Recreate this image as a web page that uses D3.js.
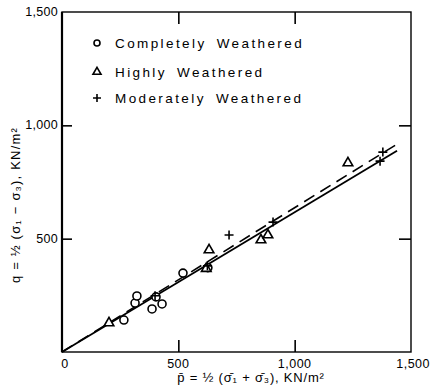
<!DOCTYPE html>
<html>
<head>
<meta charset="utf-8">
<script src="https://cdn.jsdelivr.net/npm/d3@7"></script>
<style>
  body { margin: 0; background: #fff; }
  text { font-family: 'Liberation Sans', 'DejaVu Sans', sans-serif; fill: #000; }
</style>
</head>
<body>
<div id="chart-container"></div>
<script>
// Data (p, q in KN/m2)

const completely = [
  [266, 141], [314, 216], [322, 247], [387, 190], [404, 243],
  [430, 212], [520, 348], [627, 372],
]
const highly = [
  [202, 128], [632, 450], [620, 368], [855, 494], [885, 516], [1229, 834],
]
const moderately = [
  [718, 516], [907, 573], [1367, 842], [1379, 882], [400, 248], [625, 380],
]
const solidFit = [[0, 0], [1440, 888]]
const dashedFit = [[0, 0], [1440, 917]]
const ticks = [0, 500, 1000, 1500]
const tickLabels = ['0', '500', '1,000', '1,500']
const legendItems = ['Completely Weathered', 'Highly Weathered', 'Moderately Weathered']

// Dimensions

const W = 431
const H = 389
const margin = { top: 12, right: 20, bottom: 37, left: 62 }
const width = 411 - margin.left
const height = 352 - margin.top

const svg = d3
  .select('#chart-container')
  .append('svg')
  .attr('width', W)
  .attr('height', H)

const g = svg.append('g').attr('transform', `translate(${margin.left},${margin.top})`)

const x = d3.scaleLinear().domain([0, 1500]).range([0, width])
const y = d3.scaleLinear().domain([0, 1500]).range([height, 0])

// Frame

g.append('rect')
  .attr('width', width)
  .attr('height', height)
  .attr('fill', 'none')
  .attr('stroke', '#000')
  .attr('stroke-width', 1.4)
g.append('line')
  .attr('x1', 0).attr('x2', 0).attr('y1', 0).attr('y2', height)
  .attr('stroke', '#000').attr('stroke-width', 2.2)

// Inner ticks on all four sides

const inner = [500, 1000]
const fmt = (d) => tickLabels[ticks.indexOf(d)]

g.append('g').attr('transform', `translate(0,${height})`)
  .call(d3.axisBottom(x).tickValues(inner).tickSize(-12).tickFormat(''))
g.append('g')
  .call(d3.axisTop(x).tickValues(inner).tickSize(-12).tickFormat(''))
g.append('g')
  .call(d3.axisLeft(y).tickValues(inner).tickSize(-10).tickFormat(''))
g.append('g').attr('transform', `translate(${width},0)`)
  .call(d3.axisRight(y).tickValues(inner).tickSize(-12).tickFormat(''))
g.selectAll('.domain').remove()
g.selectAll('.tick line').attr('stroke', '#000').attr('stroke-width', 1.6)

// Tick labels

g.selectAll('.xlab')
  .data(ticks)
  .enter()
  .append('text')
  .attr('class', 'xlab')
  .attr('x', (d) => (d === 1500 ? W - margin.left - 1 : x(d) + (d === 0 ? 3 : 0)))
  .attr('y', height + 16)
  .attr('text-anchor', (d) => (d === 1500 ? 'end' : 'middle'))
  .attr('font-size', 12.5)
  .attr('letter-spacing', 0.5)
  .text(fmt)

g.selectAll('.ylab')
  .data(ticks.slice(1))
  .enter()
  .append('text')
  .attr('class', 'ylab')
  .attr('x', -4)
  .attr('y', (d) => y(d) + 4)
  .attr('text-anchor', 'end')
  .attr('font-size', 12.5)
  .attr('letter-spacing', 0.3)
  .text(fmt)

// Axis titles

svg.append('text')
  .attr('x', 251)
  .attr('y', 382)
  .attr('text-anchor', 'middle')
  .attr('font-size', 13)
  .attr('letter-spacing', 0.8)
  .text('p̄ = ½ (σ̄₁ + σ̄₃), KN/m²')

svg.append('text')
  .attr('transform', 'translate(20,205) rotate(-90)')
  .attr('text-anchor', 'middle')
  .attr('font-size', 13)
  .attr('letter-spacing', 1.2)
  .text('q = ½ (σ₁ − σ₃), KN/m²')

// Fit lines

const line = d3.line()
  .x((d) => x(d[0]))
  .y((d) => y(d[1]))

g.append('path')
  .datum(solidFit)
  .attr('fill', 'none')
  .attr('stroke', '#000')
  .attr('stroke-width', 1.8)
  .attr('d', line)

g.append('path')
  .datum(dashedFit)
  .attr('fill', 'none')
  .attr('stroke', '#000')
  .attr('stroke-width', 1.6)
  .attr('stroke-dasharray', '12,7')
  .attr('d', line)

// Markers

const tri = d3.symbol().type(d3.symbolTriangle).size(40)
const plus = (s) => `M${-s},0H${s}M0,${-s}V${s}`

g.selectAll('.circle')
  .data(completely)
  .enter()
  .append('circle')
  .attr('class', 'circle')
  .attr('r', 4)
  .attr('fill', '#fff')
  .attr('stroke', '#000')
  .attr('stroke-width', 1.6)
  .attr('cx', (d) => x(d[0]))
  .attr('cy', (d) => y(d[1]))

g.selectAll('.tri')
  .data(highly)
  .enter()
  .append('path')
  .attr('class', 'tri')
  .attr('d', tri)
  .attr('fill', '#fff')
  .attr('stroke', '#000')
  .attr('stroke-width', 1.6)
  .attr('transform', (d) => `translate(${x(d[0])},${y(d[1])})`)

g.selectAll('.plus')
  .data(moderately)
  .enter()
  .append('path')
  .attr('class', 'plus')
  .attr('d', plus(4.5))
  .attr('stroke', '#000')
  .attr('stroke-width', 1.6)
  .attr('transform', (d) => `translate(${x(d[0])},${y(d[1])})`)

// Legend

const legend = svg.append('g').attr('transform', 'translate(97,0)')
const rows = [43, 72, 98]
legendItems.forEach((label, i) => {
  const row = legend.append('g').attr('transform', `translate(0,${rows[i]})`)
  if (i === 0) {
    row.append('circle').attr('r', 3).attr('fill', 'none').attr('stroke', '#000').attr('stroke-width', 1.6)
  } else if (i === 1) {
    row.append('path').attr('d', d3.symbol().type(d3.symbolTriangle).size(28))
      .attr('fill', 'none').attr('stroke', '#000').attr('stroke-width', 1.6)
  } else {
    row.append('path').attr('d', plus(4)).attr('stroke', '#000').attr('stroke-width', 1.6)
  }
  row.append('text')
    .attr('x', 18)
    .attr('y', 5)
    .attr('font-size', 13.5)
    .attr('letter-spacing', 2.4)
    .attr('word-spacing', 4)
    .text(label)
})
</script>
</body>
</html>
